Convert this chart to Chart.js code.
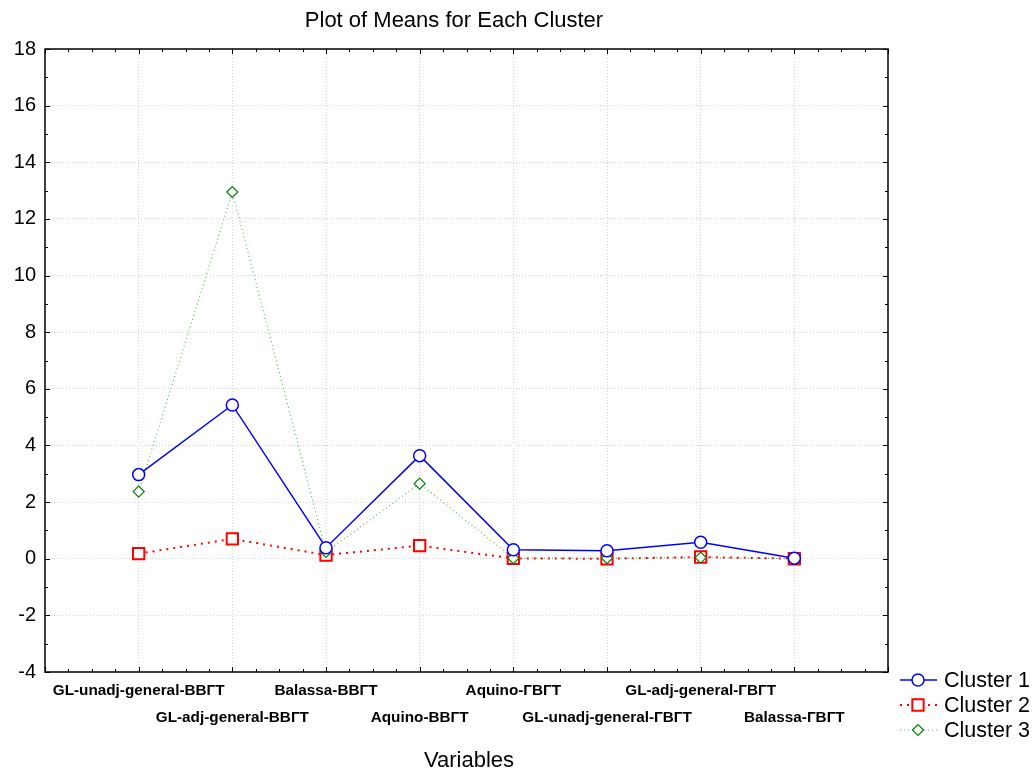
<!DOCTYPE html>
<html>
<head>
<meta charset="utf-8">
<script src="https://cdn.jsdelivr.net/npm/chart.js@4/dist/chart.umd.min.js"></script>
<style>
  html, body { margin: 0; padding: 0; background: #fff; }
  #wrap { width: 1035px; height: 769px; }
</style>
</head>
<body>
<div id="wrap"><canvas id="c" width="1035" height="769"></canvas></div>
<script>
const categories = [
  'GL-unadj-general-ВВГТ', 'GL-adj-general-ВВГТ', 'Balassa-ВВГТ', 'Aquino-ВВГТ',
  'Aquino-ГВГТ', 'GL-unadj-general-ГВГТ', 'GL-adj-general-ГВГТ', 'Balassa-ГВГТ'
];
const cluster1 = [2.97, 5.43, 0.39, 3.64, 0.32, 0.28, 0.58, 0.02];
const cluster2 = [0.18, 0.70, 0.13, 0.46, 0.01, 0.00, 0.06, 0.00];
const cluster3 = [2.37, 12.95, 0.24, 2.65, 0.02, 0.02, 0.04, 0.00];
const seriesNames = ['Cluster 1', 'Cluster 2', 'Cluster 3'];
const yTicks = [-4, -2, 0, 2, 4, 6, 8, 10, 12, 14, 16, 18];

const FONT = 'Arial, "Liberation Sans", sans-serif';

function toPoints(arr) { return arr.map((v, i) => ({ x: i + 1, y: v })); }

const frameAndExtras = {
  id: 'frameAndExtras',
  afterDraw(chart) {
    const ctx = chart.ctx;
    const a = chart.chartArea;
    const xs = chart.scales.x, ys = chart.scales.y;
    ctx.save();
    ctx.strokeStyle = '#000';
    ctx.lineWidth = 1.5;
    ctx.strokeRect(a.left, a.top, a.right - a.left, a.bottom - a.top);
    ctx.lineWidth = 1;
    ctx.beginPath();
    for (let v = 0; v <= 9.001; v += 0.25) {
      const px = Math.round(xs.getPixelForValue(v)) + 0.5;
      const major = Math.abs(v - Math.round(v)) < 1e-6;
      const len = major ? 5 : 3;
      ctx.moveTo(px, a.bottom); ctx.lineTo(px, a.bottom - len);
      ctx.moveTo(px, a.top); ctx.lineTo(px, a.top + len);
    }
    for (let v = -4; v <= 18; v += 1) {
      const py = Math.round(ys.getPixelForValue(v)) + 0.5;
      const major = v % 2 === 0;
      const len = major ? 5 : 3;
      ctx.moveTo(a.left, py); ctx.lineTo(a.left + len, py);
      ctx.moveTo(a.right, py); ctx.lineTo(a.right - len, py);
    }
    ctx.stroke();
    ctx.fillStyle = '#000';
    ctx.font = '22px ' + FONT;
    ctx.textAlign = 'center';
    ctx.textBaseline = 'middle';
    ctx.fillText('Plot of Means for Each Cluster', 454, 21);
    ctx.fillText('Variables', 469, 761);

    const rows = [680, 705, 730];
    chart.data.datasets.forEach((ds, i) => {
      const y = rows[i];
      ctx.save();
      ctx.strokeStyle = ds.borderColor;
      ctx.lineWidth = ds.borderWidth;
      ctx.setLineDash(ds.borderDash || []);
      ctx.beginPath();
      ctx.moveTo(900, y); ctx.lineTo(937, y);
      ctx.stroke();
      ctx.restore();
      ctx.save();
      ctx.fillStyle = '#fff';
      ctx.strokeStyle = ds.pointBorderColor;
      ctx.lineWidth = ds.pointBorderWidth;
      Chart.helpers.drawPoint(ctx, { pointStyle: ds.pointStyle, radius: ds.pointRadius, borderWidth: ds.pointBorderWidth, rotation: 0 }, 918, y);
      ctx.fillStyle = '#000';
      ctx.font = '21.5px ' + FONT;
      ctx.textAlign = 'left';
      ctx.textBaseline = 'middle';
      ctx.fillText(seriesNames[i], 944, y + 1);
      ctx.restore();
    });
    ctx.restore();
  }
};

const gridColor = '#d4d4d4';

new Chart(document.getElementById('c'), {
  type: 'line',
  data: {
    datasets: [
      {
        label: seriesNames[0], data: toPoints(cluster1), order: 1,
        borderColor: '#0000ff', borderWidth: 1.5,
        pointStyle: 'circle', pointRadius: 6, pointBorderWidth: 1.5,
        pointBorderColor: '#0000ff', pointBackgroundColor: '#ffffff'
      },
      {
        label: seriesNames[1], data: toPoints(cluster2), order: 3,
        borderColor: '#ff0000', borderWidth: 2, borderDash: [2, 5],
        pointStyle: 'rect', pointRadius: 8, pointBorderWidth: 2,
        pointBorderColor: '#ff0000', pointBackgroundColor: '#ffffff'
      },
      {
        label: seriesNames[2], data: toPoints(cluster3), order: 2,
        borderColor: '#5fb85f', borderWidth: 1.2, borderDash: [1, 3],
        pointStyle: 'rectRot', pointRadius: 5.5, pointBorderWidth: 1.2,
        pointBorderColor: '#008000', pointBackgroundColor: '#ffffff'
      }
    ]
  },
  options: {
    responsive: false,
    animation: false,
    layout: { padding: { left: 0, top: 49, right: 147, bottom: 0 } },
    plugins: {
      legend: { display: false },
      title: { display: false },
      tooltip: { enabled: false }
    },
    scales: {
      x: {
        type: 'linear', min: 0, max: 9,
        afterFit(scale) { scale.height = 97; },
        border: { display: false, dash: [1, 2] },
        grid: { drawTicks: false, color: gridColor, lineWidth: 1 },
        ticks: {
          stepSize: 1, autoSkip: false, maxRotation: 0, minRotation: 0,
          padding: 5,
          color: '#000',
          font: { family: FONT, size: 15.3, weight: 'bold', lineHeight: 1.78 },
          callback(value) {
            const i = Math.round(value) - 1;
            if (i < 0 || i >= categories.length) return null;
            return i % 2 === 0 ? [categories[i], ''] : ['', categories[i]];
          }
        }
      },
      y: {
        min: -4, max: 18,
        afterFit(scale) { scale.width = 45; },
        afterBuildTicks(scale) { scale.ticks = yTicks.map(v => ({ value: v })); },
        border: { display: false, dash: [1, 2] },
        grid: { drawTicks: false, color: gridColor, lineWidth: 1 },
        ticks: {
          padding: 9, color: '#000',
          font: { family: FONT, size: 20 }
        }
      }
    }
  },
  plugins: [frameAndExtras]
});
</script>
</body>
</html>
